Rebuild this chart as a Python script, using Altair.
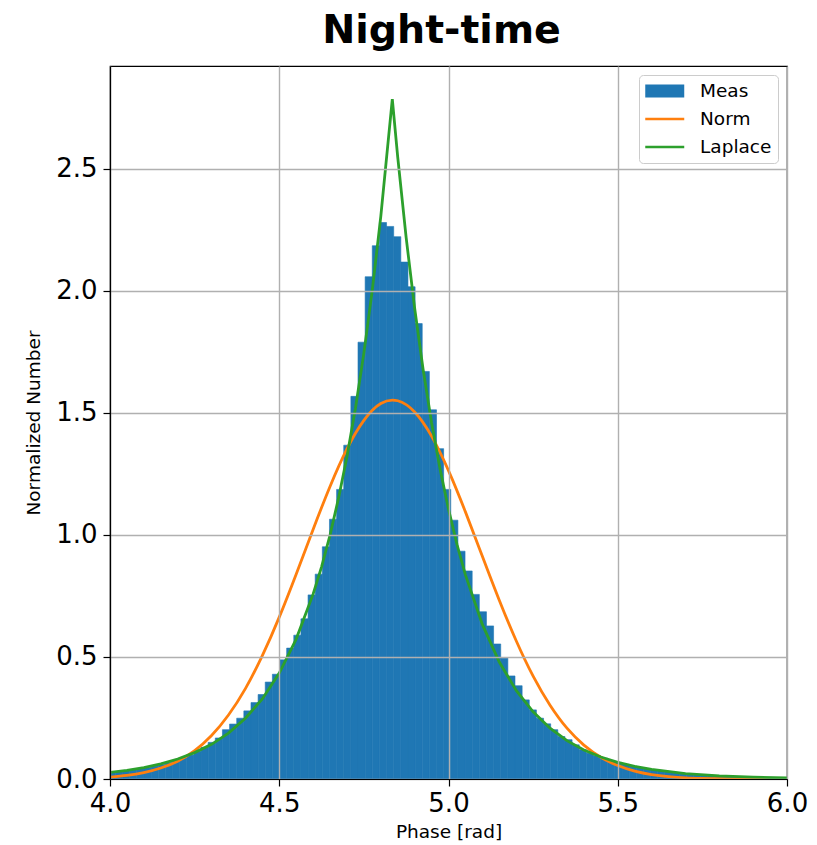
import altair as alt
import numpy as np
import pandas as pd

# ---- data ----
BIN_START = 3.9738   # left edge of first histogram bin
BIN_WIDTH = 0.02108
meas_heights = [
    0.023, 0.026, 0.029, 0.033, 0.037, 0.042, 0.047, 0.053, 0.060, 0.068,
    0.076, 0.086, 0.098, 0.113, 0.130, 0.150, 0.168, 0.202, 0.225, 0.249,
    0.279, 0.313, 0.346, 0.397, 0.429, 0.488, 0.536, 0.589, 0.656, 0.754,
    0.839, 0.951, 1.064, 1.186, 1.367, 1.567, 1.789, 2.057, 2.184, 2.279,
    2.263, 2.221, 2.117, 2.016, 1.865, 1.669, 1.512, 1.353, 1.186, 1.060,
    0.933, 0.852, 0.756, 0.685, 0.627, 0.553, 0.495, 0.422, 0.382, 0.324,
    0.283, 0.249, 0.226, 0.202, 0.174, 0.161, 0.140, 0.120, 0.106, 0.095,
    0.085, 0.076, 0.068, 0.060, 0.053, 0.047, 0.042, 0.037, 0.033, 0.029,
    0.026, 0.023, 0.020, 0.018, 0.016, 0.014, 0.012, 0.011, 0.010, 0.009,
    0.008, 0.007, 0.006, 0.006, 0.005, 0.005, 0.004,
]

norm_x = [4.00, 4.05, 4.10, 4.15, 4.20, 4.25, 4.30, 4.35, 4.40, 4.45, 4.50,
          4.55, 4.60, 4.65, 4.70, 4.75, 4.80, 4.85, 4.90, 4.95, 5.00, 5.05,
          5.10, 5.15, 5.20, 5.25, 5.30, 5.35, 5.40, 5.45, 5.50, 5.55, 5.60,
          5.65, 5.70, 5.75, 5.80, 5.85, 5.90, 5.95, 6.00]
norm_y = [0.008, 0.015, 0.026, 0.045, 0.073, 0.116, 0.178, 0.262, 0.370, 0.505,
          0.663, 0.839, 1.022, 1.198, 1.352, 1.469, 1.538, 1.549, 1.503, 1.404,
          1.263, 1.094, 0.912, 0.732, 0.566, 0.421, 0.302, 0.208, 0.139, 0.089,
          0.055, 0.032, 0.018, 0.010, 0.005, 0.0027, 0.0013, 0.0006, 0.0003,
          0.0001, 0.0001]

lap_x = [4.00, 4.05, 4.10, 4.15, 4.20, 4.25, 4.30, 4.35, 4.40, 4.45, 4.50,
         4.55, 4.60, 4.625, 4.65, 4.675, 4.70, 4.725, 4.75, 4.775, 4.80, 4.834,
         4.85, 4.875, 4.90, 4.925, 4.95, 4.975, 5.00, 5.025, 5.05, 5.10, 5.15,
         5.20, 5.25, 5.30, 5.35, 5.40, 5.45, 5.50, 5.55, 5.60, 5.70, 5.80,
         5.90, 6.00]
lap_y = [0.027, 0.035, 0.047, 0.062, 0.082, 0.108, 0.142, 0.188, 0.249, 0.328,
         0.434, 0.573, 0.757, 0.869, 0.999, 1.149, 1.320, 1.517, 1.744, 2.004,
         2.304, 2.784, 2.547, 2.216, 1.928, 1.677, 1.459, 1.270, 1.105, 0.961,
         0.836, 0.633, 0.479, 0.363, 0.275, 0.208, 0.157, 0.119, 0.090, 0.068,
         0.052, 0.039, 0.022, 0.013, 0.0074, 0.0042]

series_names = ["Meas", "Norm", "Laplace"]
series_colors = ["#1f77b4", "#ff7f0e", "#2ca02c"]
x_ticks = [4.0, 4.5, 5.0, 5.5, 6.0]
y_ticks = [0.0, 0.5, 1.0, 1.5, 2.0, 2.5]

# ---- tables ----
edges = BIN_START + BIN_WIDTH * np.arange(len(meas_heights) + 1)
hist_df = pd.DataFrame({"x": edges[:-1], "x2": edges[1:], "y": meas_heights,
                        "series": "Meas"})
norm_df = pd.DataFrame({"x": norm_x, "y": norm_y, "series": "Norm"})
lap_df = pd.DataFrame({"x": lap_x, "y": lap_y, "series": "Laplace"})
key_df = pd.DataFrame({"series": series_names})

FONT = "DejaVu Sans"

xscale = alt.Scale(domain=[4.0, 6.0], nice=False, zero=False)
yscale = alt.Scale(domain=[0, 2.92], nice=False)

patch_path = "M-1,-0.667L3,-0.667L3,0.667L-1,0.667Z"
line_path = "M-1,-0.12L3,-0.12L3,0.12L-1,0.12Z"

legend = alt.Legend(
    title=None, orient="top-right", offset=9,
    labelFont=FONT, labelFontSize=18.5, labelColor="black",
    symbolSize=380, labelOffset=35, padding=6, rowPadding=8,
    strokeColor="#cccccc", fillColor="white", cornerRadius=4,
    symbolOpacity=1, symbolStrokeWidth=0,
)
color = alt.Color("series:N",
                  scale=alt.Scale(domain=series_names, range=series_colors),
                  legend=legend)
shape = alt.Shape("series:N",
                  scale=alt.Scale(domain=series_names,
                                  range=[patch_path, line_path, line_path]),
                  legend=legend)

x_axis = alt.Axis(values=x_ticks, format=".1f", title="Phase [rad]",
                  labelFontSize=26, titleFontSize=18.5, labelFont=FONT,
                  titleFont=FONT, titleFontWeight="normal", tickSize=7,
                  labelPadding=4, titlePadding=6, grid=True, zindex=1,
                  labelFlush=False)
y_axis = alt.Axis(values=y_ticks, format=".1f", title="Normalized Number",
                  labelFontSize=26, titleFontSize=18.5, labelFont=FONT,
                  titleFont=FONT, titleFontWeight="normal", tickSize=7,
                  labelPadding=6, titlePadding=12, grid=True, zindex=1)

key = alt.Chart(key_df).mark_point(filled=True, opacity=0, size=380).encode(
    x=alt.value(0), y=alt.value(0), color=color, shape=shape,
)

bars = alt.Chart(hist_df).mark_rect(
    clip=True, stroke="#1f77b4", strokeWidth=0.6
).encode(
    x=alt.X("x:Q", scale=xscale, axis=x_axis),
    x2="x2:Q",
    y=alt.Y("y:Q", scale=yscale, axis=y_axis),
    y2=alt.datum(0),
    color=color,
)

norm_line = alt.Chart(norm_df).mark_line(strokeWidth=2.8, clip=True,
                                         interpolate="natural").encode(
    x=alt.X("x:Q", scale=xscale),
    y=alt.Y("y:Q", scale=yscale),
    color=color,
)
lap_line = alt.Chart(lap_df).mark_line(strokeWidth=2.8, clip=True).encode(
    x=alt.X("x:Q", scale=xscale),
    y=alt.Y("y:Q", scale=yscale),
    color=color,
)

chart = alt.layer(key, bars, norm_line, lap_line).properties(
    width=677, height=713,
    autosize=alt.AutoSizeParams(type="none"),
    padding={"left": 102, "top": 58, "right": 22, "bottom": 66},
    title=alt.TitleParams("Night-time", font=FONT, fontSize=39.5,
                          fontWeight="bold", anchor="middle", frame="group",
                          offset=8, color="black", dx=-7),
).configure_view(stroke="black", strokeWidth=1.2).configure_axis(
    gridColor="#b0b0b0", gridWidth=1.4, domainColor="black", tickColor="black",
    labelColor="black", titleColor="black", domainWidth=1.2, tickWidth=1.2,
)

chart.save("out.html", embed_options={"renderer": "svg", "actions": False})
